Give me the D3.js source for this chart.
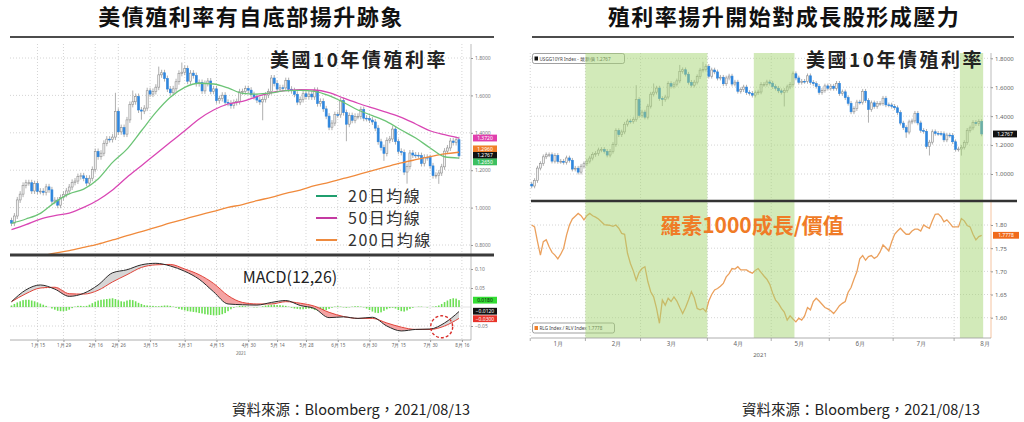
<!DOCTYPE html>
<html>
<head>
<meta charset="utf-8">
<script src="https://cdn.jsdelivr.net/npm/d3@7"></script>
<style>
body { margin: 0; background: #fff; }
svg { display: block; font-family: "Noto Sans CJK TC", "Noto Sans", sans-serif; }
</style>
</head>
<body>
<svg id="chart" width="1024" height="422"></svg>
<script>
// titles and notes
var titles = ["美債殖利率有自底部揚升跡象", "殖利率揚升開始對成長股形成壓力"];
var yieldLabel = "美國10年債殖利率";
var ratioLabel = "羅素1000成長/價值";
var macdLabel = "MACD(12,26)";
var sourceNote = "資料來源：Bloomberg，2021/08/13";

// trading days of 2021 (bond market holidays dropped)
var holidays = ["2021-01-18", "2021-02-15", "2021-05-31", "2021-07-05"];

// US 10Y yield, daily close, 2021-01-04 .. 2021-08-13
var closes = [
  0.917, 0.955, 1.041, 1.072, 1.119, 1.133, 1.133, 1.089, 1.128, 1.087, 1.088, 1.081, 1.111, 1.095, 1.034, 1.040, 1.013, 1.054, 1.071,
  1.089, 1.110, 1.135, 1.142, 1.166, 1.170, 1.157, 1.131, 1.157, 1.204, 1.300, 1.272, 1.291, 1.344, 1.366, 1.364, 1.377, 1.515, 1.405,
  1.428, 1.393, 1.469, 1.552, 1.566, 1.594, 1.522, 1.516, 1.532, 1.625, 1.607, 1.621, 1.644, 1.710, 1.721, 1.690, 1.634, 1.614, 1.635, 1.673, 1.718, 1.724, 1.744,
  1.676, 1.719, 1.706, 1.663, 1.669, 1.624, 1.664, 1.677, 1.622, 1.635, 1.572, 1.583, 1.601, 1.563, 1.558, 1.545, 1.562, 1.567, 1.619, 1.620, 1.636, 1.628,
  1.604, 1.593, 1.575, 1.565, 1.578, 1.602, 1.620, 1.693, 1.664, 1.634, 1.641, 1.640, 1.679, 1.633, 1.625, 1.606, 1.564, 1.578, 1.609, 1.593,
  1.607, 1.592, 1.627, 1.556, 1.568, 1.528, 1.489, 1.430, 1.452, 1.497, 1.496, 1.572, 1.508, 1.446, 1.492, 1.467, 1.488, 1.488, 1.524, 1.478, 1.477, 1.468,
  1.458, 1.425, 1.352, 1.321, 1.290, 1.360, 1.367, 1.420, 1.353, 1.301, 1.295, 1.190, 1.220, 1.292, 1.281, 1.280, 1.278, 1.236, 1.269, 1.267, 1.223,
  1.171, 1.173, 1.185, 1.218, 1.302, 1.319, 1.356, 1.348, 1.363, 1.2767
];
var firstOpen = 0.93;
// days with long wicks: index, high, low
var wickIdx  = [36, 42, 45, 51, 59, 87, 116, 129, 137, 148];
var wickHigh = [1.614, 1.626, null, 1.754, 1.776, null, null, null, null, null];
var wickLow  = [null, null, 1.47, null, null, 1.467, 1.355, 1.25, 1.128, 1.127];

// moving averages, one value every 5 trading days
var maStep = 5;
var ma20  = [0.916, 0.939, 0.969, 1.028, 1.073, 1.099, 1.153, 1.242, 1.313, 1.411, 1.509, 1.590, 1.643, 1.665, 1.661, 1.640,
             1.611, 1.607, 1.613, 1.625, 1.627, 1.622, 1.599, 1.563, 1.522, 1.492, 1.460, 1.415, 1.372, 1.319, 1.272, 1.265];
var ma50  = [0.882, 0.909, 0.939, 0.957, 0.971, 1.001, 1.041, 1.094, 1.162, 1.224, 1.287, 1.349, 1.411, 1.474, 1.522, 1.554,
             1.568, 1.593, 1.615, 1.625, 1.631, 1.629, 1.615, 1.586, 1.558, 1.533, 1.509, 1.483, 1.447, 1.411, 1.390, 1.372];
var ma200 = [0.715, 0.728, 0.740, 0.757, 0.770, 0.787, 0.805, 0.827, 0.850, 0.871, 0.894, 0.918, 0.939, 0.960, 0.980, 1.001,
             1.016, 1.037, 1.055, 1.076, 1.094, 1.117, 1.135, 1.156, 1.176, 1.198, 1.219, 1.239, 1.256, 1.272, 1.287, 1.296];
var maNames = ["20日均線", "50日均線", "200日均線"];

// MACD(12,26), one value every 5 trading days; histogram is daily
var macdLine   = [0.014, 0.045, 0.058, 0.047, 0.028, 0.036, 0.058, 0.090, 0.098, 0.111, 0.115, 0.108, 0.094, 0.073, 0.040, 0.008,
                  0.006, 0.005, 0.012, 0.017, 0.004, -0.004, -0.028, -0.026, -0.030, -0.027, -0.050, -0.063, -0.059, -0.058, -0.042, -0.012];
var macdSignal = [0.014, 0.035, 0.050, 0.052, 0.035, 0.034, 0.044, 0.066, 0.085, 0.104, 0.111, 0.112, 0.100, 0.085, 0.062, 0.030,
                  0.012, 0.008, 0.008, 0.014, 0.010, 0.002, -0.014, -0.025, -0.030, -0.030, -0.042, -0.053, -0.059, -0.059, -0.050, -0.030];
var macdHist = [
  0.004, 0.008, 0.012, 0.015, 0.018, 0.019, 0.019, 0.017, 0.015, 0.012,
  0.009, 0.006, 0.003, 0.000, -0.004, -0.007, -0.010, -0.011, -0.011, -0.010,
  -0.007, -0.003, 0.001, 0.003, 0.003, 0.002, 0.003, 0.006, 0.010, 0.014,
  0.017, 0.019, 0.020, 0.021, 0.022, 0.023, 0.021, 0.018, 0.015, 0.014,
  0.017, 0.019, 0.018, 0.015, 0.011, 0.008, 0.005, 0.004, 0.003, 0.003,
  0.002, 0.002, 0.003, 0.004, 0.004, 0.003, 0.001, -0.002, -0.005, -0.007,
  -0.009, -0.011, -0.012, -0.013, -0.014, -0.016, -0.017, -0.019, -0.020, -0.021,
  -0.022, -0.022, -0.021, -0.019, -0.016, -0.011, -0.006, -0.002, 0.001, 0.003,
  0.003, 0.002, 0.001, 0.000, -0.001, -0.001, 0.000, 0.002, 0.004, 0.005,
  0.006, 0.006, 0.005, 0.005, 0.004, 0.003, 0.001, -0.002, -0.004, -0.005,
  -0.006, -0.006, -0.005, -0.004, -0.005, -0.008, -0.010, -0.011, -0.010, -0.008,
  -0.005, -0.002, 0.001, 0.002, 0.001, -0.001, -0.002, -0.001, 0.001, 0.002,
  0.002, 0.001, -0.001, -0.004, -0.008, -0.012, -0.015, -0.016, -0.014, -0.010,
  -0.006, -0.003, -0.002, -0.004, -0.008, -0.011, -0.012, -0.009, -0.005, -0.002,
  0.000, 0.001, 0.001, 0.000, -0.001, 0.000, 0.001, 0.002, 0.004, 0.008,
  0.013, 0.017, 0.021, 0.023, 0.022, 0.018
];

// left chart axis
var leftTickDates = ["2021-01-15", "2021-01-29", "2021-02-16", "2021-02-26", "2021-03-15", "2021-03-31", "2021-04-15", "2021-04-30",
                     "2021-05-14", "2021-05-28", "2021-06-15", "2021-06-30", "2021-07-15", "2021-07-30", "2021-08-16"];
var leftTickLabels = ["1月 15", "1月 29", "2月 16", "2月 26", "3月 15", "3月 31", "4月 15", "4月 30",
                      "5月 14", "5月 28", "6月 15", "6月 30", "7月 15", "7月 30", "8月 16"];
var priceTicks = [0.8, 1.0, 1.2, 1.4, 1.6, 1.8];
var macdTicks = [-0.05, 0.05, 0.10];

// Russell 1000 Growth / Value (RLG / RLV), daily
var ratio = [
  1.800, 1.796, 1.764, 1.735, 1.764, 1.768, 1.753, 1.741, 1.735, 1.727, 1.737, 1.750, 1.778, 1.800, 1.813, 1.819, 1.825, 1.820, 1.811,
  1.820, 1.825, 1.820, 1.817, 1.813, 1.807, 1.801, 1.800, 1.799, 1.797, 1.800, 1.793, 1.782, 1.780, 1.739, 1.717, 1.701, 1.681, 1.698,
  1.706, 1.710, 1.678, 1.656, 1.645, 1.620, 1.588, 1.638, 1.627, 1.642, 1.635, 1.645, 1.636, 1.622, 1.609, 1.622, 1.638, 1.656, 1.643,
  1.620, 1.617, 1.620, 1.613, 1.636, 1.650, 1.660, 1.663, 1.668, 1.674, 1.688, 1.695, 1.706, 1.705, 1.710, 1.703, 1.703, 1.703, 1.699,
  1.696, 1.702, 1.706, 1.698, 1.690, 1.683, 1.672, 1.653, 1.638, 1.631, 1.620, 1.612, 1.595, 1.604, 1.597, 1.591, 1.599, 1.595, 1.604,
  1.622, 1.617, 1.635, 1.642, 1.636, 1.629, 1.622, 1.619, 1.615, 1.609, 1.617, 1.626, 1.631, 1.635, 1.655, 1.665, 1.683, 1.699, 1.727,
  1.734, 1.724, 1.732, 1.734, 1.728, 1.732, 1.742, 1.757, 1.751, 1.744, 1.764, 1.780, 1.787, 1.793, 1.786, 1.780, 1.780, 1.787, 1.791,
  1.791, 1.787, 1.800, 1.796, 1.793, 1.809, 1.823, 1.824, 1.818, 1.807, 1.811, 1.804, 1.796, 1.796, 1.796, 1.814, 1.809, 1.799, 1.796,
  1.780, 1.768, 1.775, 1.7778
];

// right chart axis
var monthLabelDates = ["2021-01-15", "2021-02-16", "2021-03-15", "2021-04-15", "2021-05-14", "2021-06-15", "2021-07-15", "2021-08-16"];
var monthLabels = ["1月", "2月", "3月", "4月", "5月", "6月", "7月", "8月"];
var monthStarts = ["2021-01-04", "2021-02-01", "2021-03-01", "2021-04-01", "2021-05-03", "2021-06-01", "2021-07-01", "2021-08-02"];
var bands = [["2021-02-01", "2021-03-31"], ["2021-04-23", "2021-05-12"], ["2021-08-04", "2021-08-13"]];
var rightPriceTicks = [1.0, 1.2, 1.4, 1.6, 1.8];
var ratioTicks = [1.60, 1.65, 1.70, 1.75, 1.80];


var svg = d3.select("#chart");

var fmtDay = d3.timeFormat("%Y-%m-%d");
var days = d3.timeDay.range(new Date(2021, 0, 4), new Date(2021, 7, 17))
    .filter(function(d) { return d.getDay() % 6 !== 0 && holidays.indexOf(fmtDay(d)) < 0; })
    .map(fmtDay);
function dayIdx(s) { return days.indexOf(s); }

var bars = closes.map(function(c, i) {
  var o = i ? closes[i - 1] : firstOpen;
  return {i: i, o: o, c: c, h: Math.max(o, c) + 0.016, l: Math.min(o, c) - 0.016};
});
wickIdx.forEach(function(k, j) {
  if (wickHigh[j] != null) bars[k].h = wickHigh[j];
  if (wickLow[j] != null) bars[k].l = wickLow[j];
});

function sampled(arr) { return arr.map(function(v, k) { return {i: k * maStep, v: v}; }); }
var last = closes.length - 1;
var f4 = d3.format(".4f");

var defs = svg.append("defs");
function clip(id, x, y, w, h) {
  defs.append("clipPath").attr("id", id).append("rect")
      .attr("x", x).attr("y", y).attr("width", w).attr("height", h);
}

function hGrid(g, scale, vals, x0, x1) {
  g.selectAll(null).data(vals).enter().append("line")
      .attr("x1", x0).attr("x2", x1)
      .attr("y1", function(d) { return scale(d); })
      .attr("y2", function(d) { return scale(d); })
      .attr("stroke", "#c9c9c9").attr("stroke-width", 0.8).attr("stroke-dasharray", "1,2");
}
function vGrid(g, xs, vals, y0, y1) {
  g.selectAll(null).data(vals).enter().append("line")
      .attr("x1", xs).attr("x2", xs)
      .attr("y1", y0).attr("y2", y1)
      .attr("stroke", "#c9c9c9").attr("stroke-width", 0.8).attr("stroke-dasharray", "1,2");
}

function drawCandles(g, xs, ys, w) {
  var c = g.selectAll(null).data(bars).enter().append("g");
  c.append("line")
      .attr("x1", function(d) { return xs(d.i); })
      .attr("x2", function(d) { return xs(d.i); })
      .attr("y1", function(d) { return ys(d.h); })
      .attr("y2", function(d) { return ys(d.l); })
      .attr("stroke", "#9c9c9c").attr("stroke-width", 0.8);
  c.append("rect")
      .attr("x", function(d) { return xs(d.i) - w / 2; })
      .attr("width", w)
      .attr("y", function(d) { return ys(Math.max(d.o, d.c)); })
      .attr("height", function(d) { return Math.max(0.8, Math.abs(ys(d.o) - ys(d.c))); })
      .attr("fill", function(d) { return d.c < d.o ? "#2f86dd" : "#f2f2f2"; })
      .attr("stroke", function(d) { return d.c < d.o ? "#2f86dd" : "#8e8e8e"; })
      .attr("stroke-width", 0.6);
}

function styleAxis(g, size, color) {
  g.select(".domain").remove();
  g.selectAll(".tick line").attr("stroke", "#999");
  g.selectAll(".tick text").attr("font-size", size).attr("fill", color).attr("font-family", "Noto Sans, sans-serif");
}

function tag(g, x, y, w, text, fill, color) {
  g.append("rect").attr("x", x).attr("y", y - 3.4).attr("width", w).attr("height", 6.8).attr("fill", fill);
  g.append("text").attr("x", x + w / 2).attr("y", y + 1.8).attr("text-anchor", "middle")
      .attr("font-size", 5).attr("fill", color).attr("font-family", "Noto Sans, sans-serif").text(text);
}

function spread(items, gap) {
  items.sort(function(a, b) { return a.y - b.y; });
  for (var k = 0; k < 30; k++) {
    for (var i = 1; i < items.length; i++) {
      if (items[i].y - items[i - 1].y < gap) {
        var m = (items[i].y + items[i - 1].y) / 2;
        items[i - 1].y = m - gap / 2;
        items[i].y = m + gap / 2;
      }
    }
  }
  return items;
}

// ---------- titles ----------
svg.selectAll(".title").data(titles).enter().append("text")
    .attr("class", "title")
    .attr("x", function(d, i) { return i ? 784 : 251; })
    .attr("y", 25)
    .attr("text-anchor", "middle")
    .attr("font-size", 22).attr("font-weight", "bold").attr("letter-spacing", 1.5)
    .attr("fill", "#111")
    .text(function(d) { return d; });
svg.append("line").attr("x1", 10).attr("x2", 494).attr("y1", 37).attr("y2", 37).attr("stroke", "#111").attr("stroke-width", 1.5);
svg.append("line").attr("x1", 532).attr("x2", 1014).attr("y1", 37).attr("y2", 37).attr("stroke", "#111").attr("stroke-width", 1.5);

svg.selectAll(".src").data([232, 742]).enter().append("text")
    .attr("class", "src")
    .attr("x", function(d) { return d; }).attr("y", 415)
    .attr("font-size", 14.5).attr("fill", "#222")
    .text(sourceNote);

// ================= left chart =================
var xL = d3.scaleLinear().domain([0, 155]).range([11.5, 459]);
var yL = d3.scaleLinear().domain([0.8, 1.8]).range([245, 58]);
var yM = d3.scaleLinear().domain([-0.05, 0.10]).range([326, 269]);
clip("clipL", 9, 44, 462, 210);
clip("clipM", 9, 256, 462, 84);

var left = svg.append("g");
hGrid(left, yL, priceTicks, 10, 471);
hGrid(left, yM, macdTicks, 10, 471);
vGrid(left, function(d) { return xL(dayIdx(d)); }, leftTickDates, 44, 340);

var pL = left.append("g").attr("clip-path", "url(#clipL)");
drawCandles(pL, xL, yL, 2);

var maLine = d3.line().x(function(d) { return xL(d.i); }).y(function(d) { return yL(d.v); }).curve(d3.curveMonotoneX);
pL.append("path").datum(sampled(ma200)).attr("d", maLine).attr("fill", "none").attr("stroke", "#f08a3c").attr("stroke-width", 1.3);
pL.append("path").datum(sampled(ma50)).attr("d", maLine).attr("fill", "none").attr("stroke", "#d946b4").attr("stroke-width", 1.3);
pL.append("path").datum(sampled(ma20)).attr("d", maLine).attr("fill", "none").attr("stroke", "#6cc476").attr("stroke-width", 1.3);

left.append("text").attr("x", 359).attr("y", 67).attr("text-anchor", "middle")
    .attr("font-size", 19).attr("font-weight", "bold").attr("letter-spacing", 2.5).attr("fill", "#222")
    .text(yieldLabel);

var legendColors = ["#1f9e6e", "#c43aa2", "#ee8a3e"];
var leg = left.selectAll(".leg").data(maNames).enter().append("g")
    .attr("transform", function(d, i) { return "translate(0," + (196 + i * 22) + ")"; });
leg.append("line").attr("x1", 316).attr("x2", 337).attr("y1", 0).attr("y2", 0)
    .attr("stroke", function(d, i) { return legendColors[i]; }).attr("stroke-width", 2);
leg.append("text").attr("x", 348).attr("y", 6).attr("font-size", 16).attr("letter-spacing", 1.5).attr("fill", "#333")
    .text(function(d) { return d; });

// MACD panel
var pM = left.append("g").attr("clip-path", "url(#clipM)");
pM.append("line").attr("x1", 10).attr("x2", 471).attr("y1", yM(0)).attr("y2", yM(0)).attr("stroke", "#ddd").attr("stroke-width", 0.8);
pM.selectAll(null).data(macdHist).enter().append("rect")
    .attr("x", function(d, i) { return xL(i) - 0.8; })
    .attr("width", 1.6)
    .attr("y", function(d) { return Math.min(yM(0), yM(d)); })
    .attr("height", function(d) { return Math.abs(yM(d) - yM(0)); })
    .attr("fill", "#6ddf55");

var macdPts = macdLine.map(function(v, k) { return {i: k * maStep, m: v, s: macdSignal[k]}; });
var xm = function(d) { return xL(d.i); };
defs.append("clipPath").attr("id", "aboveM").append("path").datum(macdPts)
    .attr("d", d3.area().x(xm).y0(256).y1(function(d) { return yM(d.m); }).curve(d3.curveMonotoneX));
defs.append("clipPath").attr("id", "belowM").append("path").datum(macdPts)
    .attr("d", d3.area().x(xm).y0(340).y1(function(d) { return yM(d.m); }).curve(d3.curveMonotoneX));
var between = d3.area().x(xm).y0(function(d) { return yM(d.s); }).y1(function(d) { return yM(d.m); }).curve(d3.curveMonotoneX);
pM.append("path").datum(macdPts).attr("d", between).attr("fill", "#f4a3a3").attr("clip-path", "url(#aboveM)");
pM.append("path").datum(macdPts).attr("d", between).attr("fill", "#d6d6d6").attr("clip-path", "url(#belowM)");
pM.append("path").datum(macdPts)
    .attr("d", d3.line().x(xm).y(function(d) { return yM(d.s); }).curve(d3.curveMonotoneX))
    .attr("fill", "none").attr("stroke", "#e2443a").attr("stroke-width", 1);
pM.append("path").datum(macdPts)
    .attr("d", d3.line().x(xm).y(function(d) { return yM(d.m); }).curve(d3.curveMonotoneX))
    .attr("fill", "none").attr("stroke", "#2a2a2a").attr("stroke-width", 1);

left.append("circle").attr("cx", xL(149)).attr("cy", yM(-0.052)).attr("r", 11)
    .attr("fill", "none").attr("stroke", "#d9302c").attr("stroke-width", 1.4).attr("stroke-dasharray", "3,2");

left.append("text").attr("x", 290).attr("y", 283).attr("text-anchor", "middle")
    .attr("font-size", 16).attr("fill", "#222").text(macdLabel);

// axes
left.append("line").attr("x1", 471).attr("x2", 471).attr("y1", 44).attr("y2", 340).attr("stroke", "#aaa").attr("stroke-width", 0.8);
left.append("g").attr("transform", "translate(471,0)")
    .call(d3.axisRight(yL).tickValues(priceTicks).tickFormat(f4).tickSize(2).tickPadding(2))
    .call(function(g) { styleAxis(g, 5, "#777"); });
left.append("g").attr("transform", "translate(471,0)")
    .call(d3.axisRight(yM).tickValues(macdTicks).tickFormat(d3.format(".2f")).tickSize(2).tickPadding(2))
    .call(function(g) { styleAxis(g, 5, "#777"); });
left.append("line").attr("x1", 10).attr("x2", 471).attr("y1", 340).attr("y2", 340).attr("stroke", "#999").attr("stroke-width", 0.8);
left.append("g").attr("transform", "translate(0,340)")
    .call(d3.axisBottom(xL).tickValues(leftTickDates.map(dayIdx))
          .tickFormat(function(d, i) { return leftTickLabels[i]; }).tickSize(2).tickPadding(2))
    .call(function(g) { styleAxis(g, 4.6, "#666"); });
left.append("text").attr("x", 241).attr("y", 355).attr("text-anchor", "middle")
    .attr("font-size", 4.6).attr("fill", "#666").text("2021");

left.append("line").attr("x1", 10).attr("x2", 494).attr("y1", 255).attr("y2", 255).attr("stroke", "#3a3a3a").attr("stroke-width", 3);

// value tags
var priceTags = spread([
  {y: yL(ma50[ma50.length - 1]), t: f4(ma50[ma50.length - 1]), f: "#e03fae", c: "#fff"},
  {y: yL(ma200[ma200.length - 1]), t: f4(ma200[ma200.length - 1]), f: "#f07f2a", c: "#fff"},
  {y: yL(closes[last]), t: f4(closes[last]), f: "#111", c: "#fff"},
  {y: yL(ma20[ma20.length - 1]), t: f4(ma20[ma20.length - 1]), f: "#3cc060", c: "#fff"}
], 6.5);
var macdTags = spread([
  {y: yM(macdHist[last]), t: f4(macdHist[last]), f: "#33dd33", c: "#111"},
  {y: yM(macdLine[macdLine.length - 1]), t: f4(macdLine[macdLine.length - 1]), f: "#111", c: "#fff"},
  {y: yM(macdSignal[macdSignal.length - 1]), t: f4(macdSignal[macdSignal.length - 1]), f: "#e8332a", c: "#fff"}
], 7.5);
priceTags.concat(macdTags).forEach(function(d) { tag(left, 473, d.y, 24, d.t, d.f, d.c); });

// ================= right chart =================
var xR = d3.scaleLinear().domain([0, 155]).range([531.7, 981.7]);
var yR = d3.scaleLinear().domain([1.0, 1.8]).range([174, 58.3]);
var yQ = d3.scaleLinear().domain([1.60, 1.80]).range([317.7, 225]);
clip("clipR", 530, 53, 461, 147);
clip("clipQ", 530, 203, 461, 135);

var right = svg.append("g");
hGrid(right, yR, rightPriceTicks, 531, 991);
hGrid(right, yQ, ratioTicks, 531, 991);
vGrid(right, function(d) { return xR(dayIdx(d) - 0.5); }, monthStarts, 53, 338);

var pR = right.append("g").attr("clip-path", "url(#clipR)");
drawCandles(pR, xR, yR, 2);

var pQ = right.append("g").attr("clip-path", "url(#clipQ)");
pQ.append("path").datum(ratio)
    .attr("d", d3.line().x(function(d, i) { return xR(i); }).y(function(d) { return yQ(d); }))
    .attr("fill", "none").attr("stroke", "#eba05c").attr("stroke-width", 1.3);

// legend boxes
var lg1 = right.append("g");
lg1.append("rect").attr("x", 532.5).attr("y", 53.5).attr("width", 92).attr("height", 10).attr("rx", 2)
    .attr("fill", "#fff").attr("stroke", "#777").attr("stroke-width", 0.7);
lg1.append("rect").attr("x", 534.5).attr("y", 56.5).attr("width", 3.5).attr("height", 4).attr("fill", "#111");
lg1.append("text").attr("x", 539.5).attr("y", 60.5).attr("font-size", 4.6).attr("fill", "#444")
    .attr("font-family", "Noto Sans, sans-serif")
    .text("USGG10YR Index - 最新價 " + f4(closes[last]));
var lg2 = right.append("g");
lg2.append("rect").attr("x", 532.5).attr("y", 323).attr("width", 82).attr("height", 10).attr("rx", 2)
    .attr("fill", "#fff").attr("stroke", "#777").attr("stroke-width", 0.7);
lg2.append("rect").attr("x", 534.5).attr("y", 326).attr("width", 3.5).attr("height", 4).attr("fill", "#f07f2a");
lg2.append("text").attr("x", 539.5).attr("y", 330).attr("font-size", 4.6).attr("fill", "#444")
    .attr("font-family", "Noto Sans, sans-serif")
    .text("RLG Index / RLV Index " + f4(ratio[ratio.length - 1]));

// shaded periods
right.selectAll(".band").data(bands).enter().append("rect")
    .attr("x", function(d) { return xR(dayIdx(d[0]) - 0.5); })
    .attr("width", function(d) { return xR(dayIdx(d[1]) + 0.5) - xR(dayIdx(d[0]) - 0.5); })
    .attr("y", 53).attr("height", 285)
    .attr("fill", "#a6d674").attr("opacity", 0.5);

right.append("text").attr("x", 895).attr("y", 67).attr("text-anchor", "middle")
    .attr("font-size", 19).attr("font-weight", "bold").attr("letter-spacing", 2.5).attr("fill", "#222")
    .text(yieldLabel);
right.append("text").attr("x", 752).attr("y", 233).attr("text-anchor", "middle")
    .attr("font-size", 21).attr("font-weight", "bold").attr("fill", "#f07b26")
    .text(ratioLabel);

// axes
right.append("line").attr("x1", 991).attr("x2", 991).attr("y1", 53).attr("y2", 201).attr("stroke", "#aaa").attr("stroke-width", 0.8);
right.append("line").attr("x1", 991).attr("x2", 991).attr("y1", 201).attr("y2", 338).attr("stroke", "#f2b488").attr("stroke-width", 0.8);
right.append("g").attr("transform", "translate(991,0)")
    .call(d3.axisRight(yR).tickValues(rightPriceTicks).tickFormat(f4).tickSize(2).tickPadding(2))
    .call(function(g) { styleAxis(g, 6, "#666"); });
right.append("g").attr("transform", "translate(991,0)")
    .call(d3.axisRight(yQ).tickValues(ratioTicks).tickFormat(d3.format(".2f")).tickSize(2).tickPadding(2))
    .call(function(g) { styleAxis(g, 6, "#666"); });
right.append("line").attr("x1", 531).attr("x2", 991).attr("y1", 338).attr("y2", 338).attr("stroke", "#999").attr("stroke-width", 0.8);
right.selectAll(".mt").data(monthStarts).enter().append("line")
    .attr("x1", function(d) { return xR(dayIdx(d) - 0.5); })
    .attr("x2", function(d) { return xR(dayIdx(d) - 0.5); })
    .attr("y1", 338).attr("y2", 341).attr("stroke", "#999").attr("stroke-width", 0.8);
right.append("g").attr("transform", "translate(0,338)")
    .call(d3.axisBottom(xR).tickValues(monthLabelDates.map(dayIdx))
          .tickFormat(function(d, i) { return monthLabels[i]; }).tickSize(0).tickPadding(4))
    .call(function(g) { styleAxis(g, 6.2, "#666"); });
right.append("text").attr("x", 760).attr("y", 357).attr("text-anchor", "middle")
    .attr("font-size", 6).attr("fill", "#666").attr("font-family", "Noto Sans, sans-serif").text("2021");

right.append("line").attr("x1", 531).attr("x2", 1017).attr("y1", 201).attr("y2", 201).attr("stroke", "#333").attr("stroke-width", 2.5);

tag(right, 993, yR(closes[last]), 24, f4(closes[last]), "#111", "#fff");
tag(right, 993, yQ(ratio[ratio.length - 1]), 26, f4(ratio[ratio.length - 1]), "#f06a1a", "#fff");
</script>
</body>
</html>
